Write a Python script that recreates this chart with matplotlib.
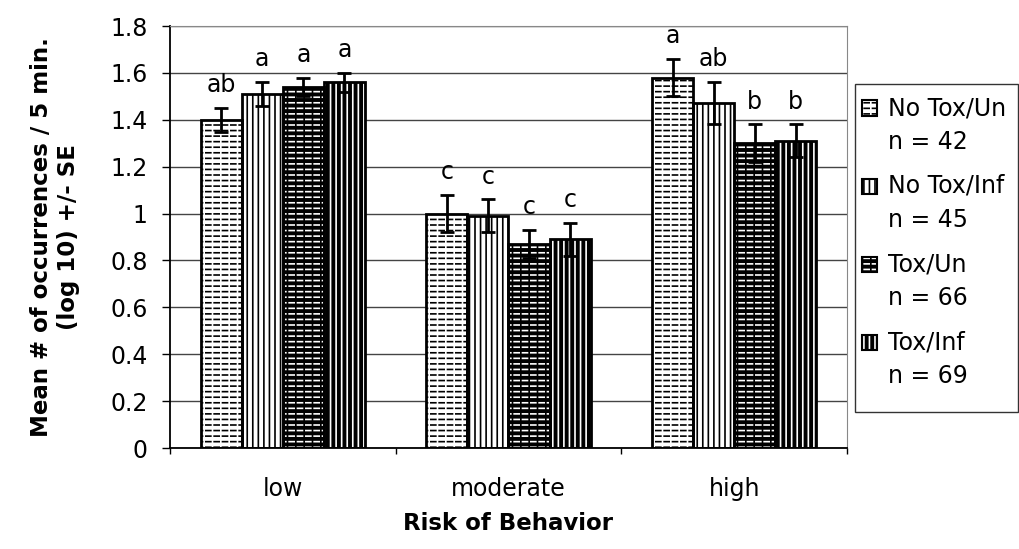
import matplotlib
matplotlib.use("Agg")
import matplotlib.pyplot as plt
from matplotlib.patches import Rectangle
import numpy as np

plt.rcParams['font.family'] = ['DejaVu Sans']
plt.rcParams['hatch.linewidth'] = 1.2

categories = ['low', 'moderate', 'high']
series_names = ['No Tox/Un', 'No Tox/Inf', 'Tox/Un', 'Tox/Inf']
series_n = ['n = 42', 'n = 45', 'n = 66', 'n = 69']
values = [
    [1.40, 1.00, 1.58],
    [1.51, 0.99, 1.47],
    [1.54, 0.87, 1.30],
    [1.56, 0.89, 1.31],
]
errors = [
    [0.05, 0.08, 0.08],
    [0.05, 0.07, 0.09],
    [0.04, 0.06, 0.08],
    [0.04, 0.07, 0.07],
]
letters = [
    ['ab', 'c', 'a'],
    ['a', 'c', 'ab'],
    ['a', 'c', 'b'],
    ['a', 'c', 'b'],
]
yticklabels = ['0', '0.2', '0.4', '0.6', '0.8', '1', '1.2', '1.4', '1.6', '1.8']

# style per series: face, hatch colour, hatch, breaker hatch (to make dashes)
faces = ['white', 'white', 'black', 'black']
hatchcols = ['black', 'black', 'white', 'white']
hatches = ['---', '|||', '---', '|||']
breakers = ['||', None, '||', None]

FS = 17


def styled(draw_rect, i, lw=2):
    draw_rect(dict(facecolor=faces[i], edgecolor=hatchcols[i], hatch=hatches[i], linewidth=0, zorder=2))
    if breakers[i]:
        draw_rect(dict(fill=False, edgecolor=faces[i], hatch=breakers[i], linewidth=0, zorder=2.5))
    draw_rect(dict(fill=False, edgecolor='black', linewidth=lw, zorder=3))


W, H = 1020, 549
fig = plt.figure(figsize=(W / 100, H / 100), dpi=100)
ax = fig.add_axes([170 / W, 1 - 448 / H, 677 / W, 422 / H])

x = np.arange(len(categories))
w = 0.182
for i in range(4):
    pos = x + (i - 1.5) * w
    styled(lambda kw: ax.bar(pos, values[i], w, **kw), i)
    ax.errorbar(pos, values[i], yerr=errors[i], fmt='none', ecolor='black', elinewidth=2,
                capsize=5, capthick=2, zorder=4)
    for p, v, e, t in zip(pos, values[i], errors[i], letters[i]):
        ax.text(p, v + e + 0.068, t, ha='center', va='baseline', fontsize=FS)

ax.set_ylim(0, 1.8)
ax.set_xlim(-0.5, 2.5)
ax.set_yticks(np.arange(0, 1.81, 0.2))
ax.set_yticklabels(yticklabels, fontsize=FS)
ax.set_xticks(x)
ax.set_xticklabels(categories, fontsize=FS)
ax.set_xticks([-0.5, 0.5, 1.5, 2.5], minor=True)
ax.tick_params(axis='x', which='major', length=0, pad=21)
ax.tick_params(axis='x', which='minor', length=4, width=1, direction='out')
ax.tick_params(axis='y', length=6, width=1, direction='out', pad=10)
ax.grid(axis='y', color='#444444', linewidth=1, zorder=0)
ax.set_axisbelow(True)
for s in ['top', 'right']:
    ax.spines[s].set_color('#888888')
for s in ['left', 'bottom']:
    ax.spines[s].set_linewidth(1.3)

ax.set_ylabel('Mean # of occurrences / 5 min.\n(log 10) +/- SE', fontsize=16.5, fontweight='bold',
              labelpad=22, linespacing=1.2)
ax.set_xlabel('Risk of Behavior', fontsize=16.5, fontweight='bold', labelpad=8)

# legend (boxed key to the right of the plot)
fig.add_artist(Rectangle((855 / W, 1 - 412 / H), 163 / W, 328 / H, transform=fig.transFigure,
                         fill=False, edgecolor='#333333', linewidth=1))
for i in range(4):
    y1 = 108 + 78 * i
    fx, fy, fw, fh = 862 / W, 1 - (y1 + 7.5) / H, 15 / W, 15 / H

    def draw_key(kw):
        kw = dict(kw)
        if kw.get('linewidth', 0) > 0:
            kw['linewidth'] = 1.5
        fig.add_artist(Rectangle((fx, fy), fw, fh, transform=fig.transFigure, **kw))
    styled(draw_key, i)
    fig.text(888 / W, 1 - y1 / H, series_names[i], fontsize=FS, va='center', ha='left')
    fig.text(888 / W, 1 - (y1 + 34) / H, series_n[i], fontsize=FS, va='center', ha='left')

fig.savefig('out.png', dpi=100)
